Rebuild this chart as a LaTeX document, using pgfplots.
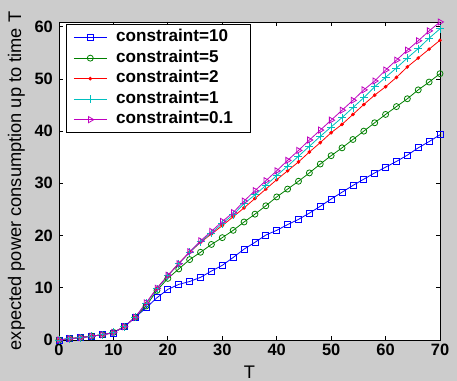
\documentclass[border=0pt]{standalone}
\usepackage{pgfplots}
\pgfplotsset{compat=1.18}
\usepackage{fontspec}
\setmainfont{Liberation Sans}
\definecolor{figbg}{gray}{0.8}
\definecolor{mblue}{rgb}{0,0,1}
\definecolor{mgreen}{rgb}{0,0.5,0}
\definecolor{mred}{rgb}{1,0,0}
\definecolor{mcyan}{rgb}{0,0.75,0.75}
\definecolor{mmag}{rgb}{0.75,0,0.75}
\pgfplotstableread{
T c10 c5 c2 c1 c01
0 0 0 0 0 0
2 0.27 0.27 0.27 0.27 0.27
4 0.45 0.45 0.45 0.45 0.45
6 0.75 0.75 0.75 0.75 0.75
8 1.0 1.0 1.0 1.0 1.0
10 1.35 1.45 1.45 1.45 1.45
12 2.55 2.55 2.55 2.55 2.55
14 4.35 4.35 4.35 4.35 4.35
16 6.15 6.5 7.0 7.0 7.1
18 8.1 9.5 9.9 9.8 9.9
20 9.7 11.8 12.3 12.3 12.4
22 10.65 13.6 14.7 14.6 14.6
24 11.2 15.4 16.8 16.8 16.9
26 12.0 16.8 18.7 18.8 19.0
28 13.2 18.3 20.3 20.5 20.8
30 14.3 19.6 21.9 22.3 22.7
32 15.8 21.0 23.6 24.0 24.4
34 17.4 22.6 25.3 26.1 26.6
36 18.7 24.1 27.1 27.8 28.6
38 20.1 25.7 28.9 29.6 30.5
40 21.0 27.4 30.7 31.5 32.4
42 22.1 28.9 32.4 33.3 34.4
44 23.1 30.4 34.1 35.2 36.3
46 24.3 32.0 36.0 37.1 38.3
48 25.6 33.7 37.8 39.0 40.2
50 27.0 35.3 39.7 40.8 42.1
52 28.3 36.8 41.3 42.6 44.0
54 29.6 38.4 43.2 44.5 45.9
56 30.8 40.0 45.1 46.4 47.9
58 32.0 41.6 46.9 48.5 49.6
60 33.1 43.2 48.5 50.3 51.7
62 34.2 44.7 50.3 52.1 53.6
64 35.4 46.2 52.3 54.0 55.5
66 36.8 47.9 54.0 55.8 57.3
68 38.0 49.4 55.7 57.8 59.2
70 39.3 51.0 57.4 59.6 60.9
}\datatable
\begin{document}
\begin{tikzpicture}
\fill[figbg] (-59bp,-41bp) rectangle (398bp,340bp);
\begin{axis}[
  at={(0,0)}, anchor=south west,
  scale only axis, width=381bp, height=318bp,
  xmin=0, xmax=70, ymin=0, ymax=60.9,
  axis background/.style={fill=white},
  axis line style={black, line width=0.8bp},
  xtick={0,10,...,70}, ytick={0,10,...,60},
  tick align=inside, major tick length=4bp,
  tick style={black, line width=0.8bp},
  /pgf/number format/assume math mode=true,
  ticklabel style={font=\bfseries\fontsize{16.5}{16.5}\selectfont},
  every x tick label/.append style={inner sep=0pt, yshift=-4bp},
  every y tick label/.append style={inner sep=0pt, xshift=-6bp},
  xlabel={T}, ylabel={expected power consumption up to time T},
  label style={font=\fontsize{18.3}{18.3}\selectfont},
  xlabel style={at={(axis description cs:0.5,0)}, anchor=base, yshift=-38bp, inner sep=0pt},
  ylabel style={at={(axis description cs:-0.0997,0.5)}, anchor=base, rotate=0, inner sep=0pt},
  legend style={at={(rel axis cs:0,1)}, anchor=north west, xshift=7bp, yshift=-2bp,
    draw=black, line width=0.8bp, fill=white, inner xsep=7bp, inner ysep=3bp,
    column sep=7bp,
    font=\bfseries\fontsize{17.2}{17.2}\selectfont,
    nodes={inner sep=2bp, text height=12.5bp, text depth=4bp}},
  legend cell align=left,
  legend image code/.code={\draw[mark repeat=2,mark phase=2] plot coordinates {(0bp,0bp) (16.5bp,0bp) (33bp,0bp)};},
  every axis plot/.append style={line width=0.8bp},
]
\addplot[mblue, mark=square, mark size=3bp, mark options={line width=0.8bp}] table[x=T,y=c10] {\datatable};
\addlegendentry{constraint=10}
\addplot[mgreen, mark=o, mark size=3bp, mark options={line width=0.8bp}] table[x=T,y=c5] {\datatable};
\addlegendentry{constraint=5}
\addplot[mred, mark=*, mark size=1.4bp] table[x=T,y=c2] {\datatable};
\addlegendentry{constraint=2}
\addplot[mcyan, mark=+, mark size=4bp, mark options={line width=0.8bp}] table[x=T,y=c1] {\datatable};
\addlegendentry{constraint=1}
\addplot[mmag, mark=triangle, mark size=3.5bp, mark options={rotate=-90, line width=0.8bp}] table[x=T,y=c01] {\datatable};
\addlegendentry{constraint=0.1\hspace*{9bp}}
\end{axis}
\pgfresetboundingbox
\useasboundingbox (-59bp,-41bp) rectangle (398bp,340bp);
\end{tikzpicture}
\end{document}
